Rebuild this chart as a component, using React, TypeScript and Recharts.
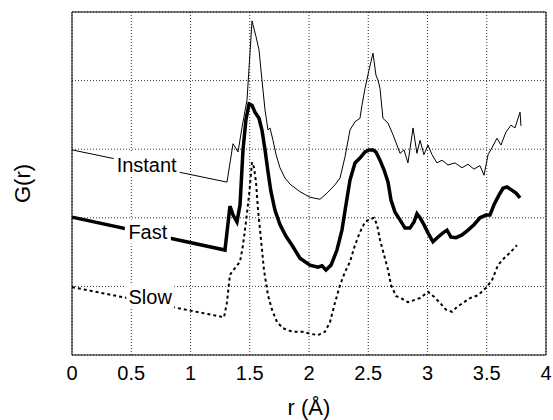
import { LineChart, Line, XAxis, YAxis, CartesianGrid, ReferenceLine, ReferenceDot } from "recharts";

// [r, G(r)] pairs (curves are vertically offset)
const instant: [number, number][] = [
  [0, 2.99], [1.308, 2.52], [1.359, 3.08], [1.401, 2.96], [1.435, 3.32], [1.477, 3.72],
  [1.519, 4.87], [1.553, 4.64], [1.578, 4.45], [1.603, 4.01], [1.629, 3.57], [1.654, 3.28],
  [1.671, 3.31], [1.696, 3.13], [1.722, 2.92], [1.755, 2.73], [1.797, 2.58], [1.84, 2.49],
  [1.924, 2.38], [2.008, 2.3], [2.093, 2.27], [2.152, 2.36], [2.219, 2.48], [2.262, 2.58],
  [2.304, 2.89], [2.346, 3.28], [2.388, 3.4], [2.43, 3.45], [2.447, 3.64], [2.473, 3.89],
  [2.506, 4.15], [2.54, 4.4], [2.565, 4.08], [2.582, 4.01], [2.599, 3.89], [2.624, 3.45],
  [2.667, 3.38], [2.709, 3.21], [2.751, 3.02], [2.768, 2.94], [2.802, 2.99], [2.835, 2.8],
  [2.878, 3.31], [2.911, 2.94], [2.937, 3.13], [2.97, 2.92], [3.004, 3.06], [3.038, 2.92],
  [3.08, 2.8], [3.122, 2.84], [3.173, 2.77], [3.232, 2.8], [3.291, 2.73], [3.342, 2.78],
  [3.392, 2.71], [3.443, 2.76], [3.477, 2.62], [3.511, 2.92], [3.544, 3.02], [3.586, 3.16],
  [3.62, 3.06], [3.662, 3.25], [3.705, 3.35], [3.738, 3.31], [3.781, 3.54], [3.789, 3.34],
];

const fast: [number, number][] = [
  [0, 2.01], [1.291, 1.53], [1.333, 2.17], [1.359, 2.04], [1.392, 1.94], [1.418, 2.19],
  [1.443, 2.99], [1.468, 3.43], [1.494, 3.66], [1.519, 3.64], [1.544, 3.54], [1.578, 3.45],
  [1.603, 3.28], [1.629, 2.99], [1.654, 2.67], [1.679, 2.38], [1.713, 2.11], [1.755, 1.9],
  [1.806, 1.73], [1.857, 1.6], [1.924, 1.41], [2.008, 1.31], [2.076, 1.28], [2.11, 1.3],
  [2.143, 1.24], [2.186, 1.31], [2.236, 1.53], [2.278, 1.82], [2.312, 2.19], [2.346, 2.55],
  [2.388, 2.8], [2.43, 2.87], [2.473, 2.96], [2.506, 2.99], [2.54, 2.99], [2.565, 2.96],
  [2.599, 2.84], [2.633, 2.7], [2.667, 2.52], [2.692, 2.26], [2.726, 2.08], [2.768, 1.97],
  [2.81, 1.85], [2.852, 1.85], [2.886, 1.94], [2.911, 2.06], [2.937, 2.0], [2.97, 1.9],
  [3.004, 1.78], [3.046, 1.65], [3.089, 1.72], [3.131, 1.78], [3.165, 1.82], [3.198, 1.72],
  [3.241, 1.71], [3.291, 1.75], [3.342, 1.82], [3.392, 1.9], [3.443, 2.0], [3.494, 2.04],
  [3.527, 2.04], [3.561, 2.19], [3.603, 2.33], [3.637, 2.43], [3.671, 2.45], [3.705, 2.41],
  [3.747, 2.36], [3.781, 2.29],
];

const slow: [number, number][] = [
  [0, 0.99], [1.283, 0.55], [1.308, 0.77], [1.333, 1.17], [1.376, 1.27], [1.418, 1.36],
  [1.443, 1.6], [1.468, 1.94], [1.494, 2.33], [1.519, 2.81], [1.536, 2.73], [1.553, 2.52],
  [1.57, 2.11], [1.595, 1.68], [1.62, 1.24], [1.654, 0.87], [1.688, 0.66], [1.73, 0.48],
  [1.781, 0.39], [1.857, 0.34], [1.941, 0.34], [2.008, 0.31], [2.076, 0.29], [2.135, 0.34],
  [2.177, 0.48], [2.219, 0.76], [2.262, 1.02], [2.304, 1.21], [2.346, 1.36], [2.388, 1.6],
  [2.43, 1.79], [2.473, 1.94], [2.515, 1.98], [2.549, 2.0], [2.574, 1.9], [2.599, 1.68],
  [2.633, 1.46], [2.667, 1.24], [2.692, 1.02], [2.734, 0.86], [2.785, 0.82], [2.835, 0.77],
  [2.886, 0.8], [2.937, 0.83], [3.004, 0.92], [3.055, 0.85], [3.105, 0.76], [3.156, 0.66],
  [3.207, 0.63], [3.249, 0.7], [3.3, 0.76], [3.359, 0.83], [3.426, 0.87], [3.494, 0.98],
  [3.544, 1.09], [3.595, 1.31], [3.646, 1.41], [3.696, 1.49], [3.755, 1.6],
];

const xTicks = [0, 0.5, 1, 1.5, 2, 2.5, 3, 3.5, 4];
const yTicks = [0, 1, 2, 3, 4, 5];

// curve name labels: [text, r, G, box width]
const curveLabels: [string, number, number, number][] = [
  ["Instant", 0.63, 2.77, 66],
  ["Fast", 0.64, 1.8, 46],
  ["Slow", 0.66, 0.85, 48],
];

const toRows = (pts: [number, number][]) => pts.map(([r, g]) => ({ r, g }));

const FONT = "'Liberation Sans', Arial, Helvetica, sans-serif";

function NameTag(props: any) {
  const { cx, cy, text, w } = props;
  return (
    <g>
      <rect x={cx - w / 2} y={cy - 12} width={w} height={24} fill="#fff" />
      <text x={cx} y={cy} textAnchor="middle" dominantBaseline="central" fontSize={20} fontFamily={FONT} fill="#000">
        {text}
      </text>
    </g>
  );
}

export default function App() {
  return (
    <div style={{ position: "absolute", left: 0, top: 0, width: 553, height: 420, background: "#fff" }}>
      <LineChart width={553} height={420} margin={{ top: 12, right: 7, bottom: 0, left: 0 }}>
        <CartesianGrid stroke="#333" strokeDasharray="1 2" />
        <XAxis
          type="number"
          dataKey="r"
          domain={[0, 4]}
          ticks={xTicks}
          height={65}
          tickLine={false}
          tickSize={6}
          tickMargin={5}
          stroke="#000"
          tick={{ fill: "#000", fontSize: 20, fontFamily: FONT }}
          tickFormatter={(v: number) => String(v)}
          label={{ value: "r (Å)", position: "insideBottom", offset: 5, fill: "#000", fontSize: 22, fontFamily: FONT }}
        />
        <YAxis
          type="number"
          domain={[0, 5]}
          ticks={yTicks}
          width={72}
          tickLine={false}
          tickFormatter={() => ""}
          stroke="#000"
          label={{ value: "G(r)", angle: -90, position: "center", dx: -14, fill: "#000", fontSize: 22, fontFamily: FONT }}
        />
        <ReferenceLine y={5} stroke="#000" />
        <ReferenceLine x={4} stroke="#000" />
        <Line data={toRows(instant)} dataKey="g" stroke="#000" strokeWidth={1} dot={false} isAnimationActive={false} />
        <Line data={toRows(fast)} dataKey="g" stroke="#000" strokeWidth={3.5} dot={false} isAnimationActive={false} />
        <Line
          data={toRows(slow)}
          dataKey="g"
          stroke="#000"
          strokeWidth={2}
          strokeDasharray="3 3"
          dot={false}
          isAnimationActive={false}
        />
        {curveLabels.map(([text, r, g, w]) => (
          <ReferenceDot key={text} x={r} y={g} r={0} shape={(p: any) => <NameTag {...p} text={text} w={w} />} />
        ))}
      </LineChart>
    </div>
  );
}
